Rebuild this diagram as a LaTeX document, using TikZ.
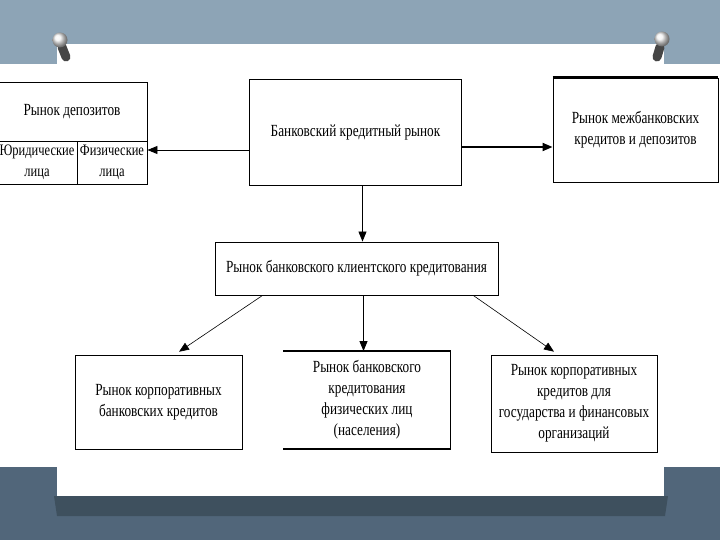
\documentclass[tikz,border=0pt]{standalone}
\usepackage{fontspec}
\setmainfont[FakeStretch=0.78]{Liberation Serif}
\usetikzlibrary{arrows.meta,positioning}
\definecolor{slatetop}{HTML}{8DA4B6}
\definecolor{slatelow}{HTML}{51667A}
\definecolor{slateshade}{HTML}{3E505E}

\begin{document}
\begin{tikzpicture}[
  x=1pt, y=-1pt,
  box/.style={rectangle, draw=black, line width=0.9pt, align=center, inner sep=1pt, font=\fontsize{17}{21}\selectfont},
  cell/.style={box, font=\fontsize{16}{21}\selectfont},
  bare/.style={box, draw=none},
  arr/.style={-{Triangle[length=10pt,width=8pt]}, line width=0.9pt},
  thinarr/.style={-{Triangle[length=10pt,width=8pt]}, line width=0.6pt, shorten >=5pt},
  boldline/.style={line width=2.2pt}
]
\useasboundingbox (0,0) rectangle (720,540);
% slide behind the sheet
\fill[slatetop] (0,0) rectangle (720,540);
\fill[slatelow] (0,467) rectangle (720,540);
\fill[slateshade] (54,496) -- (668,496) -- (665,516) -- (57,516) -- cycle;
\fill[white] (57,44) rectangle (664,496);
\fill[white] (0,64) rectangle (720,467);
% pins
\draw[line width=9pt, line cap=round, gray!55!black] (62,47) -- (66,57);
\shade[ball color=gray!10] (60,40) circle (7.5pt);
\draw[line width=9pt, line cap=round, gray!55!black] (660,47) -- (657,57);
\shade[ball color=gray!10] (662,39) circle (7.5pt);

% top row
\node[box, minimum width=150, minimum height=59] (dep) at (72,111.5) {Рынок депозитов};
\node[cell, minimum width=80, minimum height=43] (jur) at (37,162.5) {Юридические\\лица};
\node[cell, minimum width=70, minimum height=43] (fiz) at (112,162.5) {Физические\\лица};
\node[box, minimum width=212, minimum height=106] (bank) at (355.5,132) {Банковский кредитный рынок};
\node[box, minimum width=165, minimum height=104] (mbank) at (635.5,130) {Рынок межбанковских\\кредитов и депозитов};
\draw[boldline] (mbank.north west) -- (mbank.north east);

% middle
\node[box, minimum width=283, minimum height=53] (client) at (356.5,268.5) {Рынок банковского клиентского кредитования};

% bottom row
\node[box, minimum width=167, minimum height=94] (corp) at (158.5,402) {Рынок корпоративных\\банковских кредитов};
\node[bare, minimum width=167, minimum height=97] (pers) at (367,400) {Рынок банковского\\кредитования\\физических лиц\\(населения)};
\draw[boldline] (pers.north west) -- (pers.north east);
\draw[boldline] (pers.south west) -- (pers.south east);
\draw[line width=1pt] (pers.north east) -- (pers.south east);
\node[box, minimum width=166, minimum height=97] (gov) at (574,403.5) {Рынок корпоративных\\кредитов для\\государства и финансовых\\организаций};

% connectors
\draw[arr] ([yshift=-18pt]bank.west) -- ([yshift=-18pt]bank.west -| fiz.east);
\draw[arr, line width=1.8pt] ([yshift=-15pt]bank.east) -- ([yshift=-15pt]bank.east -| mbank.west);
\draw[arr] ([xshift=7pt]bank.south) -- ([xshift=7pt]bank.south |- client.north);
\draw[arr] ([xshift=7pt]client.south) -- ([xshift=7pt]client.south |- pers.north);
\draw[thinarr] (client.-164.6) -- (corp.71.7);
\draw[thinarr] (client.-13.6) -- (gov.108.3);
\end{tikzpicture}
\end{document}
